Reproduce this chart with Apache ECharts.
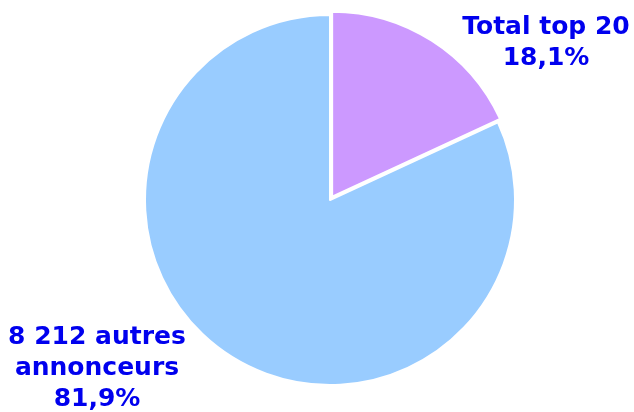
<!DOCTYPE html>
<html>
<head>
	<meta charset="utf-8">
	<title></title>
	<script src="https://cdn.jsdelivr.net/npm/echarts@6/dist/echarts.min.js"></script>
	<style>
	html, body {
		margin: 0;
		height: 100%;
		background: #ffffff;
	}
	#main {
		width: 634px;
		height: 412px;
	}
	</style>
</head>
<body>
	<div id="main"></div>
	<script>
		var names = ['Total top 20', '8 212 autres\nannonceurs'];
		var values = [18.1, 81.9];
		var colors = ['#CC99FF', '#99CCFF'];
		// label block centres
		var labelPos = [[546, 43], [97, 368]];
		// the top 20 slice is pulled out a little
		var explode = [4, 0];

		var myChart = echarts.init(document.getElementById('main'));

		var cx = 330, cy = 200;
		var total = values.reduce(function (a, b) { return a + b; }, 0);

		// one pie per slice so each can have its own offset; other slices are hidden
		var series = [];
		var acc = 0;
		for (var k = 0; k < values.length; k++) {
			var mid = (90 - (acc + values[k] / 2) / total * 360) * Math.PI / 180;
			acc += values[k];
			var data = [];
			for (var i = 0; i < names.length; i++) {
				var own = i === k;
				data.push({
					name: names[i],
					value: values[i],
					itemStyle: own ? { color: colors[i] } : { color: 'transparent', borderWidth: 0 },
					label: { show: own }
				});
			}
			series.push({
				type: 'pie',
				center: [cx + Math.cos(mid) * explode[k], cy - Math.sin(mid) * explode[k]],
				radius: 185,
				startAngle: 90,
				clockwise: true,
				silent: true,
				itemStyle: {
					borderColor: '#ffffff',
					borderWidth: 2
				},
				label: {
					position: 'inside',
					color: '#0000EE',
					fontFamily: 'DejaVu Sans',
					fontWeight: 'bold',
					fontSize: 25,
					lineHeight: 31,
					align: 'center',
					formatter: function (p) {
						return p.name + '\n' + p.value.toFixed(1).replace('.', ',') + '%';
					}
				},
				labelLine: { show: false },
				labelLayout: function (p) {
					var pos = labelPos[p.dataIndex];
					return { x: pos[0], y: pos[1], align: 'center', verticalAlign: 'middle' };
				},
				emphasis: { disabled: true },
				data: data
			});
		}

		myChart.setOption({ animation: false, series: series });
	</script>
</body>
</html>
